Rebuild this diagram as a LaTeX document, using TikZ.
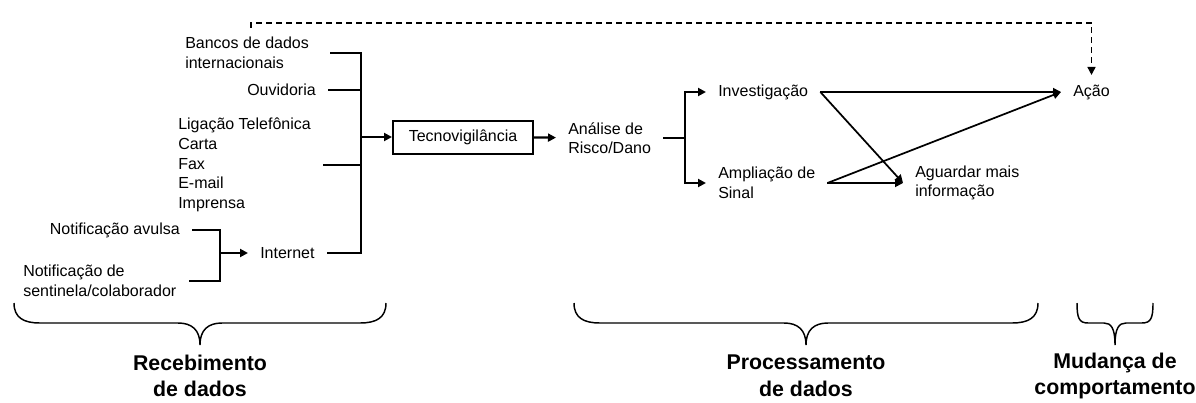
\documentclass[tikz,border=0pt]{standalone}
\usepackage{fontspec}
\setmainfont{Liberation Sans}
\usetikzlibrary{arrows.meta}

\begin{document}
\begin{tikzpicture}[x=0.75pt,y=-0.75pt,
    lbl/.style={inner xsep=9pt,inner ysep=2pt,align=left,font=\fontsize{12}{14.7}\selectfont},
    grp/.style={align=center,font=\fontsize{16}{20}\selectfont\bfseries},
    tip/.style={-{Triangle[length=6pt,width=6pt]}},
    ln/.style={line width=1.7pt},
    brc/.style={line width=1.1pt}]
    \useasboundingbox (0,0) rectangle (1196,403);

    % fontes de notificacao
    \node[lbl,anchor=west] (bancos) at (173,53) {Bancos de dados\\internacionais};
    \node[lbl,anchor=east] (ouvid) at (328,90) {Ouvidoria};
    \node[lbl,anchor=west] (meios) at (166,165) {Ligação Telefônica\\Carta\\Fax\\E-mail\\Imprensa};
    \node[lbl,anchor=east] (avulsa) at (192,230) {Notificação avulsa};
    \node[lbl,anchor=west] (sentinela) at (11,281) {Notificação de\\sentinela/colaborador};
    \node[lbl,anchor=west] (internet) at (248,253) {Internet};

    % processamento
    \node[lbl,draw,line width=1.5pt,align=center,minimum width=105pt,minimum height=24.75pt] (tecno) at (463,137) {Tecnovigilância};
    \node[lbl,anchor=west] (analise) at (556,138) {Análise de\\Risco/Dano};
    \node[lbl,anchor=west] (invest) at (706,92) {Investigação};
    \node[lbl,anchor=west] (amplia) at (706,183) {Ampliação de\\Sinal};
    \node[lbl,anchor=west] (aguard) at (903,183) {Aguardar mais\\informação};
    \node[lbl,anchor=west,inner ysep=7pt] (acao) at (1061,92) {Ação};

    \coordinate (feed) at (330,0);
    \coordinate (spine) at (361,0);
    \coordinate (spine2) at (220,0);
    \coordinate (fork) at (685,0);
    \coordinate (retorno) at (251,28);

    \draw[ln] (bancos.east -| feed) -| (spine |- internet.east) -- (internet.east);
    \draw[ln] (ouvid.east) -- (ouvid.east -| spine);
    \draw[ln] (meios.east) -- (meios.east -| spine);
    \draw[ln] (avulsa.east) -| (spine2 |- sentinela.east) -- (sentinela.east);
    \draw[ln] (analise.east) -- (analise.east -| fork);

    \path[ln,tip]
    (spine |- tecno) edge (tecno)
    (spine2 |- internet) edge (internet)
    (tecno) edge (analise)
    (analise.east -| fork) edge[to path={|- (\tikztotarget)}] (invest)
    (analise.east -| fork) edge[to path={|- (\tikztotarget)}] (amplia);

    \path[tip,line width=1.3pt]
    (invest) edge (acao)
    (invest.east) edge (aguard.west)
    (amplia.east) edge (acao.west)
    (amplia) edge (aguard);

    \draw[tip,line width=1.2pt,dash pattern=on 4.5pt off 3pt] (retorno) -- ++(0,-5) -| (acao.north);

    % etapas
    \draw[brc] (14,303) .. controls (14,318) and (24,323) .. (40,323) -- (178,323)
        .. controls (192,323) and (200,330) .. (200,345)
        .. controls (200,330) and (208,323) .. (222,323) -- (360,323)
        .. controls (376,323) and (386,318) .. (386,303);
    \draw[brc] (574,303) .. controls (574,318) and (584,323) .. (600,323) -- (784,323)
        .. controls (798,323) and (806,330) .. (806,345)
        .. controls (806,330) and (814,323) .. (828,323) -- (1012,323)
        .. controls (1028,323) and (1038,318) .. (1038,303);
    \draw[brc] (1077,303) .. controls (1077,318) and (1079,323) .. (1088,323) -- (1104,323)
        .. controls (1111,323) and (1115,328) .. (1115,345)
        .. controls (1115,328) and (1119,323) .. (1126,323) -- (1142,323)
        .. controls (1151,323) and (1153,318) .. (1153,303);
    \node[grp] (receb) at (200,376) {Recebimento\\de dados};
    \node[grp] (proc) at (806,376) {Processamento\\de dados};
    \node[grp] (mudanca) at (1115,376) {Mudança de\\comportamento};
\end{tikzpicture}
\end{document}
